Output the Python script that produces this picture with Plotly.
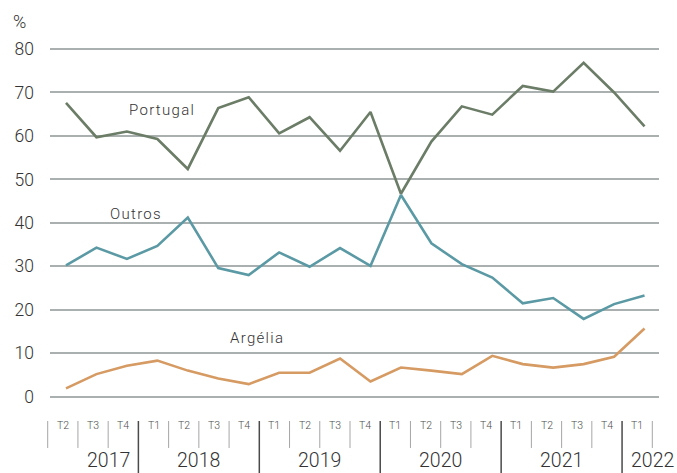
import plotly.graph_objects as go

# Quarterly shares (%) from 2017 T2 to 2022 T1
quarters = ["T2", "T3", "T4",
            "T1", "T2", "T3", "T4",
            "T1", "T2", "T3", "T4",
            "T1", "T2", "T3", "T4",
            "T1", "T2", "T3", "T4",
            "T1"]
years = ["2017", "2018", "2019", "2020", "2021", "2022"]
quarters_per_year = [3, 4, 4, 4, 4, 1]

portugal = [67.6, 59.7, 61.0, 59.3, 52.4, 66.4, 68.9, 60.6, 64.3, 56.6,
            65.5, 46.7, 58.7, 66.8, 64.9, 71.5, 70.2, 76.8, 70.0, 62.2]
outros = [30.2, 34.3, 31.7, 34.7, 41.2, 29.6, 28.0, 33.2, 29.9, 34.2,
          30.1, 46.4, 35.3, 30.5, 27.4, 21.5, 22.7, 17.9, 21.3, 23.3]
argelia = [1.9, 5.2, 7.1, 8.3, 6.0, 4.2, 2.9, 5.5, 5.5, 8.8,
           3.5, 6.7, 6.0, 5.2, 9.4, 7.5, 6.7, 7.5, 9.2, 15.7]

series = [
    ("Portugal", portugal, "#6b7c67"),
    ("Outros", outros, "#5b9aa4"),
    ("Argélia", argelia, "#d69a63"),
]

FONT = "Roboto"
WEIGHT = 300
TEXT = "#333333"

x = list(range(len(quarters)))

fig = go.Figure()
for name, vals, color in series:
    fig.add_trace(go.Scatter(
        x=x, y=vals, name=name, mode="lines",
        line=dict(color=color, width=2.6),
        showlegend=False, hoverinfo="x+y",
    ))

# helper subplot carrying the quarter / year category scale
fig.add_trace(go.Scatter(x=[], y=[], xaxis="x2", yaxis="y2",
                         showlegend=False, hoverinfo="skip"))

# inline series labels
label_pos = {"Portugal": (2.01, 65.9), "Outros": (1.39, 42.1), "Argélia": (5.33, 13.45)}
annotations = []
for name, _, _ in series:
    lx, ly = label_pos[name]
    annotations.append(dict(
        x=lx, y=ly, xref="x", yref="y", xanchor="left", yanchor="middle",
        text=f'<span style="letter-spacing:1.3px">{name}</span>',
        showarrow=False, font=dict(family=FONT, size=15, color=TEXT, weight=WEIGHT),
    ))

# unit label
annotations.append(dict(
    x=-0.0465, y=1.0495, xref="paper", yref="paper", xanchor="left",
    yanchor="middle", text="%", showarrow=False,
    font=dict(family=FONT, size=18, color=TEXT, weight=WEIGHT),
))

# quarter labels and separators
Y_QLAB = -0.0424
Y_SEP_TOP = -0.0297
Y_SEP_SHORT = -0.1027
Y_SEP_LONG = -0.175
Y_YEAR = -0.1368

year_bounds = []
acc = 0
for n in quarters_per_year[:-1]:
    acc += n
    year_bounds.append(acc)

shapes = []
for k in range(len(quarters) + 1):
    is_year = k in year_bounds
    shapes.append(dict(
        type="line", xref="x2", yref="paper", x0=k, x1=k,
        y0=Y_SEP_TOP, y1=Y_SEP_LONG if is_year else Y_SEP_SHORT,
        line=dict(color="#4a4a4a" if is_year else "#a6a6a6",
                  width=1.5 if is_year else 1),
    ))

for i, q in enumerate(quarters):
    annotations.append(dict(
        x=i + 0.5, y=Y_QLAB, xref="x2", yref="paper", xanchor="center",
        yanchor="middle", text=q, showarrow=False,
        font=dict(family=FONT, size=10.5, color="#4d4d4d", weight=WEIGHT),
    ))

year_label_x = [2.0, 5.0, 9.0, 13.0, 17.0, 20.0]
for yr, yx in zip(years, year_label_x):
    annotations.append(dict(
        x=yx, y=Y_YEAR, xref="x2", yref="paper", xanchor="center",
        yanchor="middle", text=yr, showarrow=False,
        font=dict(family=FONT, size=19.5, color=TEXT, weight=WEIGHT),
    ))

W, H = 677, 473
L, R, T, B = 40, 14, 40, 63
PW = W - L - R

fig.update_layout(
    width=W, height=H,
    margin=dict(l=L, r=R, t=T, b=B, pad=0),
    paper_bgcolor="white", plot_bgcolor="rgba(0,0,0,0)",
    font=dict(family=FONT, color=TEXT),
    xaxis=dict(
        domain=[(50 - L) / PW, (659 - L) / PW],
        range=[-0.5255, 19.475],
        showgrid=False, zeroline=False, showline=False,
        showticklabels=False, ticks="",
    ),
    yaxis=dict(
        range=[-3.06, 82.07],
        tickvals=[0, 10, 20, 30, 40, 50, 60, 70, 80],
        showgrid=True, gridcolor="#aab0b0", gridwidth=2,
        zeroline=False, showline=False, ticks="",
        tickfont=dict(family=FONT, size=17.5, color=TEXT, weight=WEIGHT),
        ticklabelstandoff=15,
    ),
    xaxis2=dict(
        domain=[(46 - L) / PW, (656 - L) / PW],
        range=[(46 - 47.7) / 30.23, (656 - 47.7) / 30.23],
        anchor="y2", visible=False, showgrid=False, zeroline=False,
    ),
    yaxis2=dict(
        domain=[0, 1], range=[0, 1], anchor="x2",
        visible=False, showgrid=False, zeroline=False,
    ),
    shapes=shapes,
    annotations=annotations,
    hovermode="closest",
)

fig.write_html("out.html")
